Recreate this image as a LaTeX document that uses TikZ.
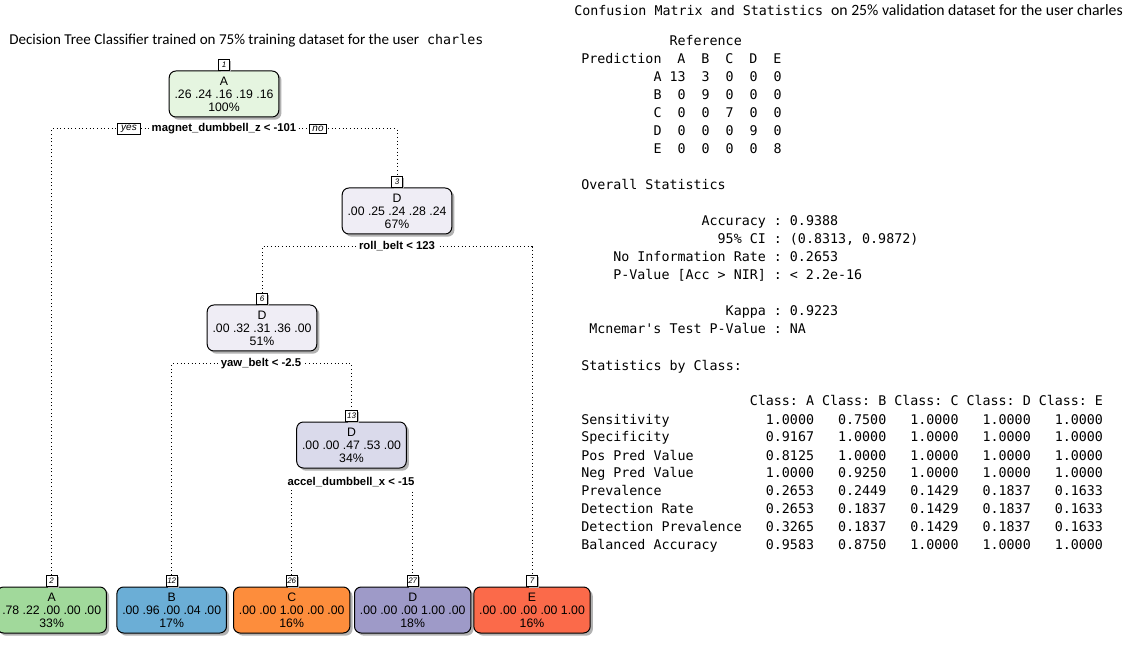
\documentclass[tikz,border=0pt]{standalone}
\usepackage{fontspec}
\usepackage{array}
\setmonofont{DejaVu Sans Mono}
\newfontfamily\arialfont{Liberation Sans}
\newfontfamily\calibrifont{Carlito}
\usetikzlibrary{positioning,shadows}

\definecolor{rootfill}{HTML}{E5F5E0}
\definecolor{dfill}{HTML}{EFEDF5}
\definecolor{ddfill}{HTML}{DADAEB}
\definecolor{leafA}{HTML}{A1D99B}
\definecolor{leafB}{HTML}{6BAED6}
\definecolor{leafC}{HTML}{FD8D3C}
\definecolor{leafD}{HTML}{9E9AC8}
\definecolor{leafE}{HTML}{FB6A4A}

\begin{document}
\begin{tikzpicture}[x=0.75pt,y=-0.75pt,node distance=0pt,
  treenode/.style={draw,line width=0.75pt,rounded corners=5pt,align=center,inner xsep=4pt,inner ysep=2pt,minimum height=34.5pt,
    font=\arialfont\fontsize{9.2}{9.75}\selectfont,drop shadow={shadow xshift=2pt,shadow yshift=-2pt,fill=black!30,opacity=1}},
  tag/.style={draw,fill=white,line width=0.6pt,inner sep=1pt,minimum size=8pt,font=\arialfont\itshape\fontsize{6}{6.5}\selectfont,
    drop shadow={shadow xshift=1.5pt,shadow yshift=-1.5pt,fill=black!30,opacity=1}},
  split/.style={fill=white,inner sep=1.5pt,text height=6.5pt,text depth=2pt,font=\arialfont\bfseries\fontsize{8.5}{10}\selectfont},
  yesno/.style={draw,fill=white,line width=0.6pt,inner xsep=2.5pt,inner ysep=1.2pt,font=\arialfont\itshape\fontsize{7.5}{8}\selectfont},
  branch/.style={dotted,line width=0.75pt},
  statline/.style={anchor=base west,inner sep=0pt,font=\ttfamily\fontsize{10}{13.5}\selectfont}]

\fill[white] (0,0) rectangle (1132,645);
\useasboundingbox (0,0) rectangle (1132,645);

\node[statline] (title1) at (9,45) {{\calibrifont\fontsize{11.3}{14}\selectfont Decision Tree Classifier trained on 75\% training dataset for the user} charles};
\node[statline] (title2) at (574,16) {Confusion Matrix and Statistics {\calibrifont\fontsize{11.8}{14}\selectfont on 25\% validation dataset for the user charles}};

% tree
\node[treenode,fill=rootfill]	(n1)	at (224,94)	{A\\.26 .24 .16 .19 .16\\100\%};
\node[treenode,fill=dfill]	(n3)	at (397,211)	{D\\.00 .25 .24 .28 .24\\67\%};
\node[treenode,fill=dfill]	(n6)	at (262,328)	{D\\.00 .32 .31 .36 .00\\51\%};
\node[treenode,fill=ddfill]	(n13)	at (351.5,445)	{D\\.00 .00 .47 .53 .00\\34\%};
\node[treenode,fill=leafA]	(l2)	at (51.7,610)	{A\\.78 .22 .00 .00 .00\\33\%};
\node[treenode,fill=leafB]	(l12)	at (171.7,610)	{B\\.00 .96 .00 .04 .00\\17\%};
\node[treenode,fill=leafC]	(l26)	at (291.7,610)	{C\\.00 .00 1.00 .00 .00\\16\%};
\node[treenode,fill=leafD]	(l27)	at (412.7,610)	{D\\.00 .00 .00 1.00 .00\\18\%};
\node[treenode,fill=leafE]	(l7)	at (532,610)	{E\\.00 .00 .00 .00 1.00\\16\%};

\node[tag]	(t1)	[above=of n1]	{1};
\node[tag]	(t3)	[above=of n3]	{3};
\node[tag]	(t6)	[above=of n6]	{6};
\node[tag]	(t13)	[above=of n13]	{13};
\node[tag]	(t2)	[above=of l2]	{2};
\node[tag]	(t12)	[above=of l12]	{12};
\node[tag]	(t26)	[above=of l26]	{26};
\node[tag]	(t27)	[above=of l27]	{27};
\node[tag]	(t7)	[above=of l7]	{7};

\coordinate (c1) at (224,129);
\coordinate (c3) at (397,247);
\coordinate (c6) at (261,364);
\coordinate (c13) at (351,482);

\draw[branch] (t2.north) |- (c1) -| (t3.north);
\draw[branch] (t6.north) |- (c3) -| (t7.north);
\draw[branch] (t12.north) |- (c6) -| (t13.north);
\draw[branch] (t26.north) |- (c13) -| (t27.north);

\node[split]	(s1)	at (c1)	{magnet\_dumbbell\_z < -101};
\node[split]	(s3)	at (c3)	{roll\_belt < 123};
\node[split]	(s6)	at (c6)	{yaw\_belt < -2.5};
\node[split]	(s13)	at (c13)	{accel\_dumbbell\_x < -15};
\node[yesno]	(yes)	at (129,129)	{yes};
\node[yesno]	(no)	at (318,129)	{no};

% confusion matrix and statistics
\node[statline] (cm) at (581,46) {\begin{tabular}[t]{@{}r*{5}{@{\hspace{6pt}}>{\raggedleft\arraybackslash}p{12pt}}@{}}
 & \multicolumn{5}{@{}l}{Reference}\\
Prediction & A & B & C & D & E\\
A & 13 & 3 & 0 & 0 & 0\\
B & 0 & 9 & 0 & 0 & 0\\
C & 0 & 0 & 7 & 0 & 0\\
D & 0 & 0 & 0 & 9 & 0\\
E & 0 & 0 & 0 & 0 & 8
\end{tabular}};

\node[statline] (ovhead) at (581,190) {Overall Statistics};
\node[statline] (ov) at (589,226) {\begin{tabular}[t]{@{}r@{~:~}l@{}}
Accuracy & 0.9388\\
95\% CI & (0.8313, 0.9872)\\
No Information Rate & 0.2653\\
P-Value [Acc > NIR] & < 2.2e-16\\
\multicolumn{2}{c}{}\\
Kappa & 0.9223\\
Mcnemar\char39 s Test P-Value & NA
\end{tabular}};

\node[statline] (schead) at (581,370) {Statistics by Class:};
\node[statline] (sc) at (581,406) {\begin{tabular}[t]{@{}l*{5}{@{~}r}@{}}
 & Class: A & Class: B & Class: C & Class: D & Class: E\\
Sensitivity & 1.0000 & 0.7500 & 1.0000 & 1.0000 & 1.0000\\
Specificity & 0.9167 & 1.0000 & 1.0000 & 1.0000 & 1.0000\\
Pos Pred Value & 0.8125 & 1.0000 & 1.0000 & 1.0000 & 1.0000\\
Neg Pred Value & 1.0000 & 0.9250 & 1.0000 & 1.0000 & 1.0000\\
Prevalence & 0.2653 & 0.2449 & 0.1429 & 0.1837 & 0.1633\\
Detection Rate & 0.2653 & 0.1837 & 0.1429 & 0.1837 & 0.1633\\
Detection Prevalence & 0.3265 & 0.1837 & 0.1429 & 0.1837 & 0.1633\\
Balanced Accuracy & 0.9583 & 0.8750 & 1.0000 & 1.0000 & 1.0000
\end{tabular}};
\end{tikzpicture}
\end{document}
